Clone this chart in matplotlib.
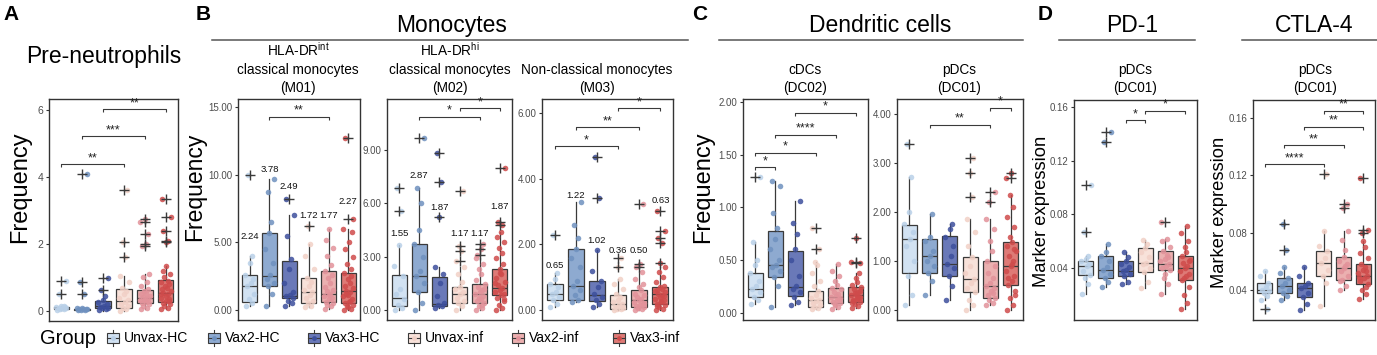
import numpy as np
import matplotlib.pyplot as plt
from matplotlib.patches import Rectangle

plt.rcParams['font.family'] = ['Liberation Sans', 'DejaVu Sans']

W, H = 1377, 355

groups = ["Unvax-HC", "Vax2-HC", "Vax3-HC", "Unvax-inf", "Vax2-inf", "Vax3-inf"]
box_colors = ["#d2e2f2", "#8eaad0", "#6a79b8", "#f8e2da", "#ebb0b0", "#de7a76"]
point_colors = ["#b9d0e8", "#6f91bf", "#3d4f9c", "#f1d0c6", "#e2929a", "#cf4b4b"]
EDGE = "#3a3a3a"

# box stats per group: (whisker low, q1, median, q3, whisker high)
# ---- A: pre-neutrophils
a_stats = [(0.02, 0.06, 0.10, 0.12, 0.16), (0.02, 0.03, 0.05, 0.07, 0.10),
           (0.0, 0.08, 0.15, 0.30, 0.50), (0.0, 0.10, 0.30, 0.65, 1.05),
           (0.05, 0.25, 0.40, 0.62, 1.10), (0.05, 0.28, 0.55, 0.92, 1.35)]
a_fliers = [[0.5, 0.88], [0.5, 0.86, 4.1], [0.62, 0.98], [1.6, 2.05, 3.6],
            [1.95, 2.0, 2.3, 2.65, 2.75], [2.05, 2.1, 2.4, 2.8, 3.35]]
a_points = [
    [0.03, 0.05, 0.06, 0.08, 0.09, 0.10, 0.11, 0.12, 0.14, 0.15],
    [0.02, 0.03, 0.04, 0.05, 0.05, 0.06, 0.07, 0.08, 0.09],
    [0.02, 0.05, 0.08, 0.10, 0.13, 0.15, 0.20, 0.28, 0.33, 0.45],
    [0.00, 0.05, 0.10, 0.15, 0.20, 0.28, 0.32, 0.40, 0.50, 0.60, 0.70, 0.85, 1.05],
    [0.05, 0.10, 0.15, 0.20, 0.24, 0.28, 0.30, 0.33, 0.36, 0.40, 0.42, 0.45, 0.50,
     0.55, 0.60, 0.65, 0.75, 0.85, 1.00, 1.10],
    [0.05, 0.10, 0.15, 0.20, 0.25, 0.30, 0.35, 0.40, 0.45, 0.50, 0.55, 0.60, 0.65,
     0.70, 0.75, 0.80, 0.85, 0.90, 1.00, 1.10, 1.20, 1.35, 0.30, 0.50],
]
a_sig = [(1, 4, 4.39, "**"), (2, 5, 5.22, "***"), (3, 6, 6.02, "**")]

# ---- B: monocytes M01
m01_stats = [(0.3, 0.6, 1.8, 2.6, 4.0), (0.3, 1.8, 2.5, 5.7, 9.7), (0.3, 0.9, 1.0, 3.6, 7.0),
             (0.2, 0.5, 1.3, 2.4, 4.9), (0.1, 0.6, 1.2, 2.9, 6.0), (0.0, 0.5, 1.4, 2.7, 6.0)]
m01_fliers = [[10.0], [], [8.2], [6.2], [], [6.7, 12.7]]
m01_points = [
    [0.3, 0.5, 0.8, 1.2, 1.8, 2.0, 2.3, 2.6, 3.5, 4.0],
    [0.3, 1.2, 1.8, 2.0, 2.3, 2.6, 3.5, 4.5, 5.7, 6.5, 8.7, 9.7],
    [0.3, 0.5, 0.7, 0.9, 1.0, 1.1, 1.3, 2.0, 3.0, 3.8, 5.5, 7.0],
    [0.2, 0.3, 0.5, 0.7, 0.9, 1.1, 1.3, 1.5, 1.8, 2.1, 2.4, 3.0, 4.0, 4.9],
    [0.1, 0.3, 0.4, 0.5, 0.6, 0.8, 0.9, 1.0, 1.1, 1.2, 1.4, 1.5, 1.7, 2.0, 2.4, 2.6,
     2.9, 3.3, 4.0, 4.6, 5.2, 6.0],
    [0.0, 0.1, 0.3, 0.4, 0.5, 0.6, 0.8, 1.0, 1.1, 1.3, 1.4, 1.6, 1.8, 2.0, 2.3, 2.5,
     2.7, 3.0, 3.4, 3.9, 4.5, 5.0, 5.8, 6.0, 0.2, 0.7, 1.2],
]
m01_means = [2.24, 3.78, 2.49, 1.72, 1.77, 2.27]
m01_mean_y = [5.4, 10.4, 9.1, 7.0, 7.0, 8.0]
m01_sig = [(2, 5, 14.3, "**")]

# ---- B: monocytes M02
m02_stats = [(0.0, 0.2, 0.69, 1.95, 3.65), (0.0, 1.0, 1.91, 3.71, 6.87), (0.1, 0.25, 0.35, 1.87, 2.43),
             (0.0, 0.38, 0.88, 1.31, 2.4), (0.0, 0.4, 0.9, 1.46, 2.9), (0.0, 0.84, 1.25, 2.3, 4.4)]
m02_fliers = [[5.58, 6.84], [9.68], [5.2, 7.17, 8.8], [2.75, 3.3, 3.6, 6.7],
              [3.1, 3.45, 3.7], [4.75, 4.95, 8.0]]
m02_points = [
    [0.0, 0.1, 0.3, 0.6, 0.9, 1.2, 1.9, 2.5, 3.65],
    [0.0, 0.4, 1.0, 1.5, 1.9, 2.2, 3.0, 3.7, 4.5, 6.0, 6.87],
    [0.1, 0.2, 0.3, 0.4, 0.8, 1.5, 2.0, 2.43],
    [0.0, 0.2, 0.38, 0.5, 0.7, 0.88, 1.0, 1.2, 1.31, 1.6, 2.0, 2.4],
    [0.0, 0.1, 0.2, 0.4, 0.5, 0.6, 0.8, 0.9, 1.0, 1.1, 1.3, 1.46, 1.7, 2.0, 2.3, 2.6,
     2.9, 0.3, 0.7, 1.2],
    [0.0, 0.1, 0.3, 0.5, 0.7, 0.84, 0.9, 1.0, 1.1, 1.25, 1.4, 1.6, 1.8, 2.0, 2.3, 2.6,
     2.9, 3.2, 3.5, 3.8, 4.1, 4.4, 0.6, 1.5, 2.1],
]
m02_means = [1.55, 2.87, 1.87, 1.17, 1.17, 1.87]
m02_mean_y = [4.3, 7.55, 5.77, 4.3, 4.3, 5.8]
m02_sig = [(2, 5, 10.86, "*"), (4, 6, 11.33, "*")]

# ---- B: monocytes M03
m03_stats = [(0.1, 0.3, 0.49, 0.79, 1.14), (0.25, 0.3, 0.73, 1.85, 3.28), (0.1, 0.27, 0.45, 0.9, 1.83),
             (0.0, 0.05, 0.2, 0.46, 0.95), (0.0, 0.1, 0.3, 0.6, 1.15), (0.0, 0.2, 0.5, 0.69, 1.3)]
m03_fliers = [[2.29], [], [3.4, 4.65], [1.3, 1.6], [1.3, 1.4, 3.22], [1.45, 2.05, 2.2, 2.4, 3.03]]
m03_points = [
    [0.1, 0.2, 0.3, 0.4, 0.5, 0.55, 0.7, 0.8, 0.95, 1.14],
    [0.25, 0.3, 0.45, 0.6, 0.75, 0.9, 1.3, 1.6, 1.85, 2.2, 2.6, 3.28],
    [0.1, 0.2, 0.3, 0.4, 0.5, 0.7, 0.9, 1.2, 1.83],
    [0.0, 0.03, 0.05, 0.08, 0.1, 0.15, 0.2, 0.25, 0.3, 0.4, 0.5, 0.65, 0.8, 0.95],
    [0.0, 0.03, 0.06, 0.1, 0.13, 0.17, 0.2, 0.25, 0.3, 0.35, 0.4, 0.45, 0.5, 0.6, 0.7,
     0.8, 0.95, 1.15, 0.08, 0.22],
    [0.0, 0.05, 0.1, 0.15, 0.2, 0.25, 0.3, 0.35, 0.4, 0.45, 0.5, 0.55, 0.6, 0.65, 0.69,
     0.75, 0.85, 1.0, 1.15, 1.3, 0.12, 0.28, 0.42, 0.58],
]
m03_means = [0.65, 1.22, 1.02, 0.36, 0.50, 0.63]
m03_mean_y = [1.37, 3.48, 2.13, 1.83, 1.83, 3.35]
m03_sig = [(1, 4, 5.0, "*"), (2, 5, 5.57, "**"), (4, 6, 6.15, "*")]

# ---- C: cDCs (DC02)
cdc_stats = [(0.08, 0.146, 0.22, 0.38, 0.67), (0.05, 0.34, 0.45, 0.78, 1.25), (0.07, 0.16, 0.24, 0.59, 1.06),
             (0.03, 0.05, 0.12, 0.21, 0.48), (0.03, 0.09, 0.15, 0.23, 0.46), (0.04, 0.10, 0.17, 0.24, 0.38)]
cdc_fliers = [[1.29], [], [], [0.6, 0.8], [], [0.47, 0.48, 0.71]]
cdc_points = [
    [0.08, 0.12, 0.15, 0.2, 0.22, 0.25, 0.3, 0.38, 0.45, 0.5, 0.67],
    [0.05, 0.25, 0.34, 0.4, 0.43, 0.45, 0.5, 0.6, 0.7, 0.8, 0.95, 1.2, 1.25],
    [0.07, 0.1, 0.15, 0.2, 0.22, 0.25, 0.35, 0.5, 0.6, 0.75, 0.85, 1.06],
    [0.03, 0.04, 0.05, 0.07, 0.09, 0.11, 0.12, 0.14, 0.17, 0.21, 0.25, 0.3, 0.38, 0.45, 0.48],
    [0.03, 0.05, 0.07, 0.09, 0.1, 0.12, 0.13, 0.15, 0.16, 0.18, 0.2, 0.22, 0.23, 0.26,
     0.3, 0.35, 0.4, 0.46, 0.08, 0.14],
    [0.04, 0.06, 0.08, 0.1, 0.11, 0.13, 0.15, 0.17, 0.18, 0.2, 0.22, 0.24, 0.26, 0.29,
     0.33, 0.38, 0.09, 0.14, 0.19, 0.21, 0.12, 0.16],
]
cdc_sig = [(1, 2, 1.38, "*"), (1, 4, 1.52, "*"), (2, 5, 1.69, "****"), (3, 6, 1.9, "*")]

# ---- C: pDCs (DC01)
pdc_stats = [(0.1, 0.75, 1.44, 1.73, 2.72), (0.3, 0.75, 1.1, 1.45, 1.95), (0.2, 0.7, 0.95, 1.52, 1.75),
             (0.0, 0.36, 0.63, 1.08, 1.85), (0.1, 0.25, 0.49, 1.0, 1.85), (0.0, 0.52, 0.9, 1.38, 2.35)]
pdc_fliers = [[3.39], [], [], [2.3, 2.8, 3.1], [2.2, 2.4], [2.7, 2.8]]
pdc_points = [
    [0.1, 0.3, 0.7, 1.0, 1.3, 1.45, 1.6, 1.75, 2.0, 2.72],
    [0.3, 0.6, 0.75, 0.9, 1.0, 1.1, 1.2, 1.4, 1.5, 1.95],
    [0.2, 0.5, 0.7, 0.85, 0.95, 1.1, 1.3, 1.5, 1.65, 1.75],
    [0.0, 0.1, 0.2, 0.36, 0.45, 0.55, 0.63, 0.75, 0.9, 1.08, 1.3, 1.6, 1.85],
    [0.1, 0.15, 0.2, 0.25, 0.3, 0.4, 0.45, 0.49, 0.55, 0.65, 0.75, 0.9, 1.0, 1.2, 1.4,
     1.65, 1.85, 0.35],
    [0.0, 0.1, 0.25, 0.4, 0.52, 0.6, 0.7, 0.8, 0.9, 1.0, 1.1, 1.2, 1.3, 1.38, 1.5, 1.7,
     1.9, 2.1, 2.35, 0.3, 0.65, 0.95, 1.25],
]
pdc_sig = [(2, 5, 3.78, "**"), (5, 6, 4.12, "*")]

# ---- D: PD-1 on pDCs
pd1_stats = [(0.021, 0.035, 0.042, 0.045, 0.049), (0.026, 0.033, 0.039, 0.049, 0.058),
             (0.028, 0.034, 0.038, 0.045, 0.052), (0.025, 0.037, 0.044, 0.055, 0.061),
             (0.021, 0.039, 0.043, 0.053, 0.062), (0.010, 0.031, 0.040, 0.049, 0.071)]
pd1_fliers = [[0.067, 0.102], [0.134, 0.141], [], [], [0.074], []]
pd1_points = [
    [0.021, 0.028, 0.033, 0.035, 0.038, 0.042, 0.043, 0.045, 0.047, 0.049],
    [0.026, 0.03, 0.033, 0.036, 0.039, 0.041, 0.045, 0.049, 0.052, 0.058],
    [0.028, 0.03, 0.034, 0.036, 0.038, 0.039, 0.041, 0.043, 0.045, 0.048, 0.052],
    [0.025, 0.03, 0.037, 0.04, 0.043, 0.044, 0.048, 0.052, 0.055, 0.058, 0.061],
    [0.021, 0.028, 0.033, 0.039, 0.04, 0.042, 0.043, 0.045, 0.047, 0.05, 0.053, 0.056,
     0.06, 0.062, 0.036, 0.048],
    [0.01, 0.014, 0.02, 0.026, 0.031, 0.034, 0.036, 0.038, 0.04, 0.042, 0.044, 0.046,
     0.049, 0.052, 0.056, 0.06, 0.066, 0.071, 0.033, 0.045],
]
pd1_sig = [(3, 4, 0.150, "*"), (4, 6, 0.157, "*")]

# ---- D: CTLA-4 on pDCs
ctla4_stats = [(0.033, 0.038, 0.040, 0.045, 0.053), (0.033, 0.038, 0.043, 0.048, 0.056),
               (0.026, 0.035, 0.041, 0.045, 0.056), (0.029, 0.050, 0.059, 0.067, 0.081),
               (0.040, 0.047, 0.055, 0.063, 0.081), (0.034, 0.044, 0.050, 0.058, 0.074)]
ctla4_fliers = [[0.027], [0.068, 0.086], [], [0.121], [0.097, 0.1], [0.08, 0.082, 0.118]]
ctla4_points = [
    [0.033, 0.036, 0.038, 0.039, 0.04, 0.042, 0.045, 0.05, 0.053],
    [0.033, 0.036, 0.038, 0.04, 0.043, 0.045, 0.048, 0.052, 0.056],
    [0.026, 0.03, 0.035, 0.038, 0.041, 0.043, 0.045, 0.05, 0.056],
    [0.029, 0.045, 0.05, 0.054, 0.059, 0.062, 0.067, 0.071, 0.081],
    [0.04, 0.043, 0.047, 0.05, 0.053, 0.055, 0.058, 0.06, 0.063, 0.068, 0.075, 0.081,
     0.046, 0.057],
    [0.034, 0.037, 0.04, 0.044, 0.046, 0.048, 0.05, 0.052, 0.054, 0.056, 0.058, 0.062,
     0.066, 0.07, 0.074, 0.042, 0.049, 0.053],
]
ctla4_sig = [(1, 4, 0.1277, "****"), (2, 5, 0.141, "**"), (3, 6, 0.154, "**"), (4, 6, 0.165, "**")]

jitter = np.array([-0.2, 0.12, -0.06, 0.22, -0.14, 0.04, 0.18, -0.24, 0.0, 0.1,
                   -0.1, 0.24, -0.18, 0.07, -0.02, 0.16])

fig = plt.figure(figsize=(W / 100, H / 100), dpi=100)


def px_axes(x0, x1, y0, y1):
    return fig.add_axes([x0 / W, 1 - y1 / H, (x1 - x0) / W, (y1 - y0) / H])


def draw_panel(ax, stats, fliers, points, sig, ylim, yticks, fmt, tsize,
               means=None, mean_y=None):
    pos = np.arange(1, 7)
    bstats = [dict(whislo=lo, q1=q1, med=med, q3=q3, whishi=hi, fliers=fl)
              for (lo, q1, med, q3, hi), fl in zip(stats, fliers)]
    art = ax.bxp(bstats, positions=pos, widths=0.75, patch_artist=True, showcaps=False,
                 boxprops=dict(edgecolor=EDGE, linewidth=0.9),
                 whiskerprops=dict(color=EDGE, linewidth=0.9),
                 medianprops=dict(color=EDGE, linewidth=0.9),
                 flierprops=dict(marker='+', markeredgecolor=EDGE, markersize=7.5,
                                 markeredgewidth=1.0))
    for patch, c in zip(art['boxes'], box_colors):
        patch.set_facecolor(c)
    for f in art['fliers']:
        f.set_zorder(4)
    for i, (pts, fl) in enumerate(zip(points, fliers)):
        vals = list(pts) + list(fl)
        xs = pos[i] + np.resize(jitter, len(vals))
        ax.scatter(xs, vals, s=16, color=point_colors[i], alpha=0.85,
                   linewidths=0, zorder=3)
    rng = ylim[1] - ylim[0]
    tip = 0.014 * rng
    for g1, g2, y, label in sig:
        ax.plot([g1, g1, g2, g2], [y - tip, y, y, y - tip], color=EDGE, lw=0.8,
                solid_capstyle='butt')
        ax.text((g1 + g2) / 2, y, label, ha='center', va='bottom',
                fontsize=9, color='#222222')
    if means is not None:
        for i, (m, my) in enumerate(zip(means, mean_y)):
            ax.text(pos[i], my, "%.2f" % m, ha='center', va='center', fontsize=6.8,
                    color='#111111')
    ax.set_xlim(0.4, 6.6)
    ax.set_ylim(*ylim)
    ax.set_xticks([])
    ax.set_yticks(yticks)
    ax.set_yticklabels([fmt % t for t in yticks])
    ax.tick_params(axis='y', labelsize=tsize, labelcolor='#4d4d4d', color='#333333',
                   length=2.5, width=0.8, pad=1.5)
    for sp in ax.spines.values():
        sp.set_color('#333333')
        sp.set_linewidth(1.0)


ax = px_axes(49, 178, 99, 321)
draw_panel(ax, a_stats, a_fliers, a_points, a_sig, (-0.3, 6.33), [0, 2, 4, 6], "%d", 7.5)

ax = px_axes(238, 360, 99, 320)
draw_panel(ax, m01_stats, m01_fliers, m01_points, m01_sig, (-0.74, 15.6),
           [0, 5, 10, 15], "%.2f", 7, m01_means, m01_mean_y)

ax = px_axes(387, 512, 99, 320)
draw_panel(ax, m02_stats, m02_fliers, m02_points, m02_sig, (-0.56, 11.85),
           [0, 3, 6, 9], "%.2f", 7, m02_means, m02_mean_y)

ax = px_axes(542, 673, 99, 320)
draw_panel(ax, m03_stats, m03_fliers, m03_points, m03_sig, (-0.3, 6.43),
           [0, 2, 4, 6], "%.2f", 7, m03_means, m03_mean_y)

ax = px_axes(743, 868, 99, 320)
draw_panel(ax, cdc_stats, cdc_fliers, cdc_points, cdc_sig, (-0.07, 2.03),
           [0, 0.5, 1.0, 1.5, 2.0], "%.2f", 7)

ax = px_axes(897, 1023, 99, 320)
draw_panel(ax, pdc_stats, pdc_fliers, pdc_points, pdc_sig, (-0.2, 4.3),
           [0, 1, 2, 3, 4], "%.2f", 7)

ax = px_axes(1074, 1197, 100, 320)
draw_panel(ax, pd1_stats, pd1_fliers, pd1_points, pd1_sig, (0.0015, 0.165),
           [0.04, 0.08, 0.12, 0.16], "%.2f", 7)

ax = px_axes(1253, 1375, 100, 320)
draw_panel(ax, ctla4_stats, ctla4_fliers, ctla4_points, ctla4_sig, (0.019, 0.1726),
           [0.04, 0.08, 0.12, 0.16], "%.2f", 7)

# overlay in pixel coordinates for headers, labels and legend
ov = fig.add_axes([0, 0, 1, 1], zorder=-1)
ov.set_xlim(0, W)
ov.set_ylim(H, 0)
ov.axis('off')

for letter, x in [("A", 11), ("B", 203), ("C", 700), ("D", 1045)]:
    ov.text(x, 14, letter, fontsize=15, fontweight='bold', ha='center', va='center')

for txt, x, y in [("Pre-neutrophils", 104, 63), ("Monocytes", 452, 32),
                  ("Dendritic cells", 880, 32), ("PD-1", 1132, 32), ("CTLA-4", 1314, 32)]:
    ov.text(x, y, txt, fontsize=16.5, ha='center', va='baseline')

for x0, x1 in [(212, 688), (719, 1023), (1059, 1195), (1242, 1377)]:
    ov.plot([x0, x1], [40, 40], color='#555555', lw=1.1)

subtitles = [
    (298, ["HLA-DR$^{\\mathregular{int}}$", "classical monocytes", "(M01)"]),
    (450, ["HLA-DR$^{\\mathregular{hi}}$", "classical monocytes", "(M02)"]),
    (597, ["Non-classical monocytes", "(M03)"]),
    (805, ["cDCs", "(DC02)"]),
    (959, ["pDCs", "(DC01)"]),
    (1135, ["pDCs", "(DC01)"]),
    (1315, ["pDCs", "(DC01)"]),
]
for x, lines in subtitles:
    base = 92 - 18 * (len(lines) - 1)
    for k, line in enumerate(lines):
        ov.text(x, base + 18 * k, line, fontsize=9.8, ha='center', va='baseline')

for txt, x, y, fs in [("Frequency", 20, 187, 17), ("Frequency", 195, 187, 16.5),
                      ("Frequency", 703, 187, 17), ("Marker expression", 1042, 211, 13.2),
                      ("Marker expression", 1219, 212, 13.2)]:
    ov.text(x, y, txt, fontsize=fs, rotation=90, ha='center', va='center')

# legend row
ov.text(40, 339, "Group", fontsize=14.5, ha='left', va='center')
icon_x = [113, 214, 314, 414, 518, 619]
for gx, name, bc, pc in zip(icon_x, groups, box_colors, point_colors):
    ov.add_patch(Rectangle((gx - 6, 338 - 5), 12, 10, facecolor=bc, edgecolor=EDGE, lw=0.8))
    ov.plot([gx, gx], [338 - 8, 338 - 5], color=EDGE, lw=0.8)
    ov.plot([gx, gx], [338 + 5, 338 + 8], color=EDGE, lw=0.8)
    ov.plot([gx - 6, gx + 6], [338, 338], color=EDGE, lw=0.8)
    ov.scatter([gx], [338], s=12, color=pc, linewidths=0, zorder=3)
    ov.text(gx + 11, 338, name, fontsize=10, ha='left', va='center')

fig.savefig("out.png", dpi=100)
